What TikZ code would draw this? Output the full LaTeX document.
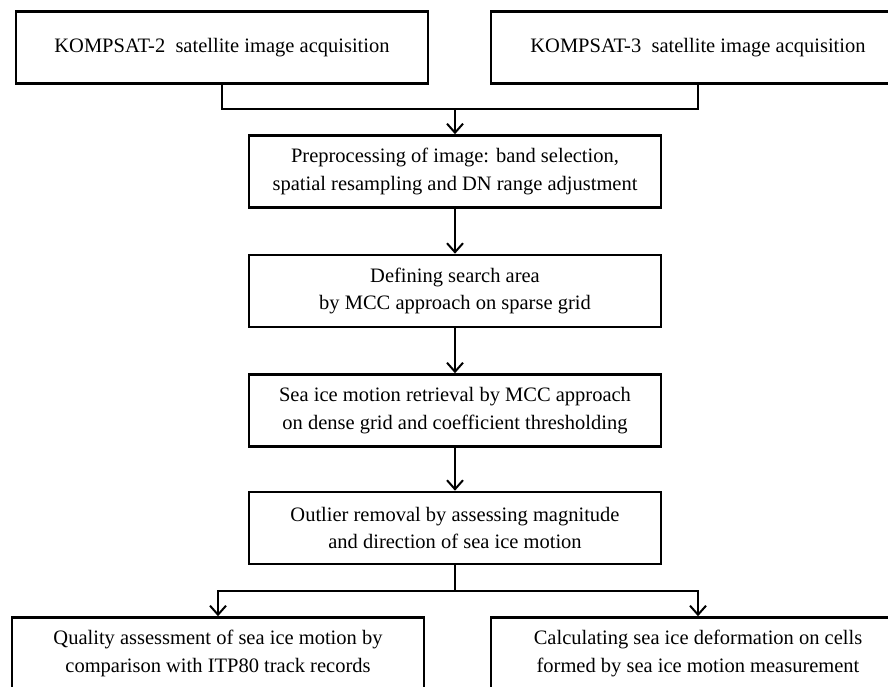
\documentclass[tikz,border=0pt]{standalone}
\usepackage{fontspec}
\setmainfont{Liberation Serif}
\usetikzlibrary{arrows.meta}

\begin{document}
\begin{tikzpicture}[x=1pt,y=-1pt,
	stage/.style={draw,line width=2.6pt,minimum width=412pt,minimum height=72pt,
		align=center,inner sep=0pt,font=\fontsize{20.5}{27.5}\selectfont},
	link/.style={line width=2pt},
	flow/.style={line width=2pt,-{Straight Barb[length=9pt,width=16pt,line width=2pt]}}]
	\useasboundingbox (0,0) rectangle (888,686);
	\clip (0,0) rectangle (888,686);
	% acquisition
	\node[stage] (kA) at (222,47.5) {KOMPSAT-2\ \ satellite image acquisition};
	\node[stage,minimum width=414pt] (kB) at (698,47.5) {KOMPSAT-3\ \ satellite image acquisition};
	% processing chain
	\node[stage] (prep) at (455,171.5) {Preprocessing of image: band selection,\\spatial resampling and DN range adjustment};
	\node[stage] (area) at (455,291) {Defining search area\\by MCC approach on sparse grid};
	\node[stage] (retr) at (455,410.5) {Sea ice motion retrieval by MCC approach\\on dense grid and coefficient thresholding};
	\node[stage] (outl) at (455,528) {Outlier removal by assessing magnitude\\and direction of sea ice motion};
	% results
	\node[stage] (qual) at (218,653.5) {Quality assessment of sea ice motion by\\comparison with ITP80 track records};
	\node[stage,minimum width=414pt] (defo) at (698,653.5) {Calculating sea ice deformation on cells\\formed by sea ice motion measurement};
	% connectors
	\coordinate (join) at (455,109);
	\coordinate (fork) at (455,591);
	\draw[link] (kA.south) |- (join);
	\draw[link] (kB.south) |- (join);
	\draw[flow] (join) -- (prep.north);
	\draw[flow] (prep.south) -- (area.north);
	\draw[flow] (area.south) -- (retr.north);
	\draw[flow] (retr.south) -- (outl.north);
	\draw[link] (outl.south) -- (fork);
	\draw[flow] (fork) -| (qual.north);
	\draw[flow] (fork) -| (defo.north);
\end{tikzpicture}
\end{document}
